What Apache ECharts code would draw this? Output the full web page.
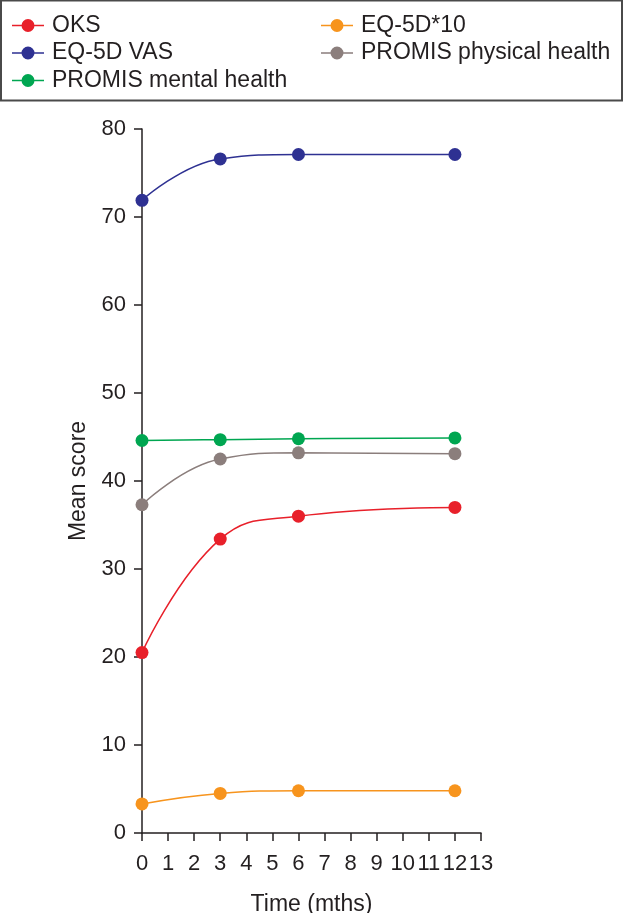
<!DOCTYPE html>
<html>
<head>
<meta charset="utf-8">
<script src="https://cdn.jsdelivr.net/npm/echarts@6/dist/echarts.min.js"></script>
<style>
html,body{margin:0;padding:0;background:#fff;}
#c{width:624px;height:913px;}
</style>
</head>
<body>
<div id="c"></div>
<script>
const months = [0, 3, 6, 12];
const oks = [20.5, 33.4, 36.0, 37.0];
const eqVas = [71.9, 76.6, 77.1, 77.1];
const promisMental = [44.6, 44.7, 44.8, 44.9];
const eq5d10 = [3.3, 4.5, 4.8, 4.8];
const promisPhysical = [37.3, 42.5, 43.2, 43.1];
const xTicks = [0,1,2,3,4,5,6,7,8,9,10,11,12,13];
const yTicks = [0,10,20,30,40,50,60,70,80];

const seriesDefs = [
  {name:'OKS', data:oks, color:'#e8202a'},
  {name:'EQ-5D VAS', data:eqVas, color:'#2e3192'},
  {name:'PROMIS mental health', data:promisMental, color:'#00a651'},
  {name:'EQ-5D*10', data:eq5d10, color:'#f7941d'},
  {name:'PROMIS physical health', data:promisPhysical, color:'#8b7e7c'}
];

const font = "'Liberation Sans', Arial, Helvetica, sans-serif";
const chart = echarts.init(document.getElementById('c'), null, {renderer:'canvas'});

const legendIcon = 'path://M0,5.75L10,5.75L10,7.25L0,7.25Z M22,5.75L32,5.75L32,7.25L22,7.25Z M16,0A6.5,6.5 0 1 1 16,13A6.5,6.5 0 1 1 16,0Z';

const legendCommon = {
  orient:'vertical', top:14, padding:0, itemWidth:32, itemHeight:13, itemGap:4.5,
  icon:legendIcon,
  textStyle:{fontFamily:font, fontSize:23, color:'#231f20', padding:[0,0,0,3]}
};

chart.setOption({
  animation:false,
  backgroundColor:'#fff',
  graphic:[{type:'rect', shape:{x:1, y:0.5, width:621, height:100}, style:{fill:'none', stroke:'#4a4a4a', lineWidth:2}}],
  legend:[
    Object.assign({left:12, data:['OKS','EQ-5D VAS','PROMIS mental health']}, legendCommon),
    Object.assign({left:321, data:['EQ-5D*10','PROMIS physical health']}, legendCommon)
  ],
  grid:{left:142, right:143, top:129, bottom:80, containLabel:false, outerBoundsMode:'none'},
  xAxis:{
    type:'value', min:0, max:13, interval:1,
    name:'Time (mths)', nameLocation:'middle', nameGap:60,
    nameTextStyle:{fontFamily:font, fontSize:23, color:'#231f20'},
    axisLine:{lineStyle:{color:'#231f20', width:1.5}},
    axisTick:{show:true, inside:false, length:8, lineStyle:{color:'#231f20', width:1.5}},
    axisLabel:{fontFamily:font, fontSize:22, color:'#231f20', margin:20,
      formatter:function(v){return xTicks.indexOf(v)>=0 ? String(v) : '';}},
    splitLine:{show:false}
  },
  yAxis:{
    type:'value', min:0, max:80, interval:10,
    name:'Mean score', nameLocation:'middle', nameGap:52, nameRotate:90,
    nameTextStyle:{fontFamily:font, fontSize:23, color:'#231f20'},
    axisLine:{show:true, lineStyle:{color:'#231f20', width:1.5}},
    axisTick:{show:true, inside:false, length:8, lineStyle:{color:'#231f20', width:1.5}},
    axisLabel:{fontFamily:font, fontSize:22, color:'#231f20', margin:16,
      formatter:function(v){return yTicks.indexOf(v)>=0 ? String(v) : '';}},
    splitLine:{show:false}
  },
  series: seriesDefs.map(function(s){
    return {
      name:s.name, type:'line', smooth:0.45,
      data: months.map(function(m,i){return [m, s.data[i]];}),
      symbol:'circle', symbolSize:13,
      itemStyle:{color:s.color},
      lineStyle:{color:s.color, width:1.5},
      emphasis:{disabled:true}
    };
  })
});
</script>
</body>
</html>
